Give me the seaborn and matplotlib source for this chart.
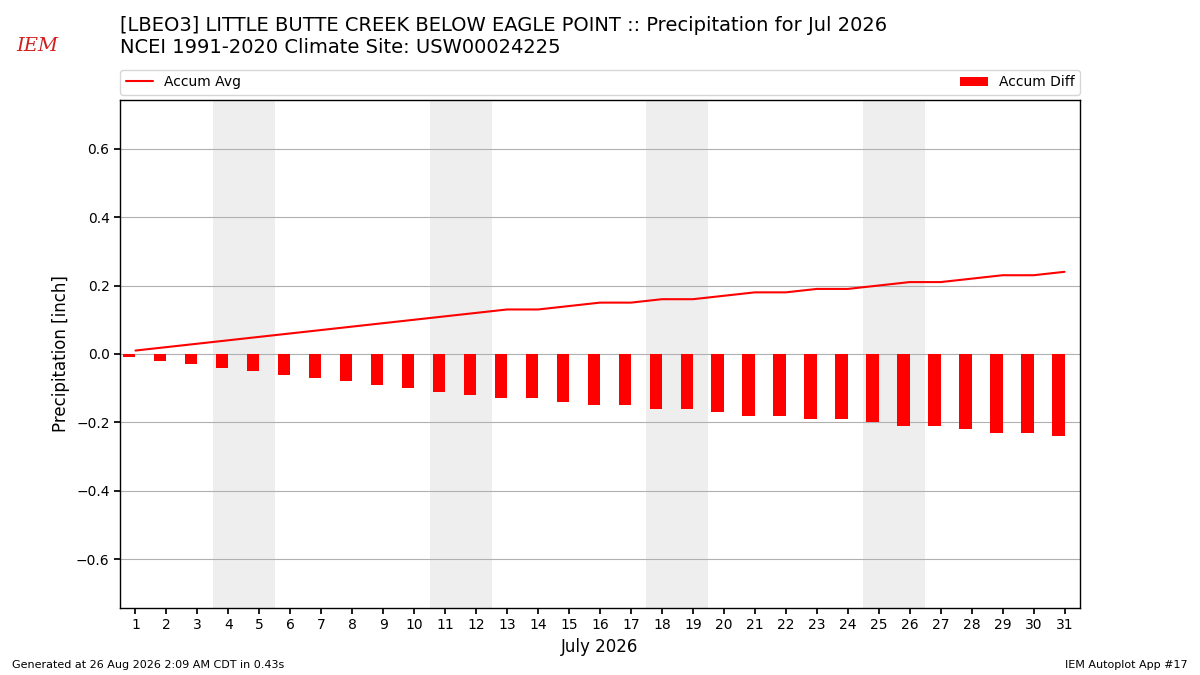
import matplotlib
matplotlib.use("Agg")
import matplotlib.pyplot as plt
import seaborn as sns
import numpy as np
import pandas as pd

days = list(range(1, 32))
accum_avg = [0.01, 0.02, 0.03, 0.04, 0.05, 0.06, 0.07, 0.08, 0.09, 0.10,
             0.11, 0.12, 0.13, 0.13, 0.14, 0.15, 0.15, 0.16, 0.16, 0.17,
             0.18, 0.18, 0.19, 0.19, 0.20, 0.21, 0.21, 0.22, 0.23, 0.23, 0.24]
accum_diff = [-0.01, -0.02, -0.03, -0.04, -0.05, -0.06, -0.07, -0.08, -0.09, -0.10,
              -0.11, -0.12, -0.13, -0.13, -0.14, -0.15, -0.15, -0.16, -0.16, -0.17,
              -0.18, -0.18, -0.19, -0.19, -0.20, -0.21, -0.21, -0.22, -0.23, -0.23, -0.24]
weekends = [(4, 5), (11, 12), (18, 19), (25, 26)]
yticks = [-0.6, -0.4, -0.2, 0.0, 0.2, 0.4, 0.6]

title = ("[LBEO3] LITTLE BUTTE CREEK BELOW EAGLE POINT :: Precipitation for Jul 2026\n"
         "NCEI 1991-2020 Climate Site: USW00024225")

sns.set_theme(style="ticks", rc={
    "text.color": "black", "axes.labelcolor": "black",
    "xtick.color": "black", "ytick.color": "black",
    "axes.edgecolor": "black", "patch.edgecolor": "none",
})
plt.rcParams['font.family'] = ['DejaVu Sans']

df = pd.DataFrame({"day": days, "avg": accum_avg, "diff": accum_diff})

fig = plt.figure(figsize=(12, 6.75), dpi=100)
ax = fig.add_axes([0.1, 0.0993, 0.8, 0.7526])

for a, b in weekends:
    ax.axvspan(a - 0.5, b + 0.5, color="#eeeeee", zorder=0, lw=0)

ax.bar(df["day"], df["diff"], width=-0.4, align="edge", color="red",
       linewidth=0, label="Accum Diff", zorder=2)
sns.lineplot(data=df, x="day", y="avg", color="red", lw=1.5,
             label="Accum Avg", ax=ax, zorder=3)

ax.set_xlim(0.5, 31.5)
ax.set_ylim(-0.742, 0.742)
ax.set_xticks(days)
ax.set_yticks(yticks)
ax.set_yticklabels([f"{v:.1f}".replace("-", "\u2212") for v in yticks])
ax.tick_params(axis="both", labelsize=10, length=4, color="black", direction="out")
ax.yaxis.grid(True, color="#b0b0b0", lw=0.8, zorder=1)
ax.set_axisbelow(True)
for s in ax.spines.values():
    s.set_color("black")
    s.set_linewidth(1.0)
ax.set_xlabel("July 2026", fontsize=12)
ax.set_ylabel("Precipitation [inch]", fontsize=12)

h, l = ax.get_legend_handles_labels()
order = [l.index("Accum Avg"), l.index("Accum Diff")]
ax.legend([h[i] for i in order], [l[i] for i in order],
          bbox_to_anchor=(0, 1.01, 1, 0.05), loc="lower left", mode="expand",
          ncol=2, fontsize=10, frameon=True, borderaxespad=0.0)

fig.text(0.1, 0.977, title, fontsize=14, va="top", ha="left", linespacing=1.2,
         color="black")
fig.text(0.01, 0.007, "Generated at 26 Aug 2026 2:09 AM CDT in 0.43s", fontsize=8, ha="left", va="bottom")
fig.text(0.99, 0.007, "IEM Autoplot App #17", fontsize=8, ha="right", va="bottom")
fig.text(0.031, 0.932, "IEM", fontsize=14, color="#d02020", family="serif",
         style="italic", ha="center", va="center")

fig.savefig("out.png", dpi=100)
